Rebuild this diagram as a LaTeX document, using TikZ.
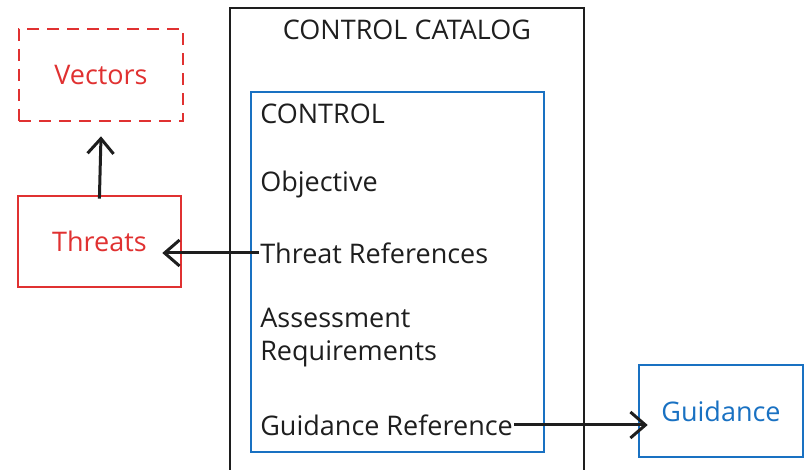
\documentclass[tikz,border=0pt]{standalone}
\usepackage{fontspec}
\setmainfont{Open Sans}
\usepackage{xcolor}
\usepackage{tikz}
\usetikzlibrary{arrows.meta}
\usetikzlibrary{calc}
\definecolor{xred}{HTML}{E03131}
\definecolor{xblue}{HTML}{1971C2}
\definecolor{xblack}{HTML}{1E1E1E}

\begin{document}
\begin{tikzpicture}[x=1pt,y=-1pt,line width=2.6pt,
    box/.style={draw,rectangle,inner sep=0pt,font=\fontsize{27}{32}\selectfont},
    item/.style={anchor=west,inner sep=0pt,align=left,text=xblack,font=\fontsize{27}{33}\selectfont},
    link/.style={xblack,line width=3pt,-{Straight Barb[length=15pt,width=26pt]}}]
  \useasboundingbox (0,0) rectangle (804,470);
  \clip (0,0) rectangle (804,470);
  % left side
  \node[box,xred,dash pattern=on 12pt off 8pt,text=xred,minimum width=164,minimum height=92] (vectors) at (101,75) {Vectors};
  \node[box,xred,text=xred,minimum width=163,minimum height=91] (threats) at (99.5,241.5) {Threats};
  % catalog and control
  \node[box,xblack,minimum width=354,minimum height=470] (catalog) at (407,243) {};
  \node[anchor=north,inner sep=0pt,text=xblack,font=\fontsize{27}{32}\selectfont] (title) at ($(catalog.north)+(0,12)$) {CONTROL CATALOG};
  \node[box,xblue,minimum width=293,minimum height=360] (control) at (397.5,272) {};
  \node[item] (head) at (259,114) {CONTROL};
  \node[item] (objective) at (259,184) {Objective};
  \node[item] (threatref) at (259,253) {Threat References};
  \node[item] (assess) at (259,338) {Assessment\\Requirements};
  \node[item] (guideref) at (259,425) {Guidance Reference};
  % right side
  \node[box,xblue,text=xblue,minimum width=164,minimum height=92] (guidance) at (721,411) {Guidance};
  % connectors
  \draw[link,shorten <=-4pt] (threats.north) -- ($(vectors.south)+(0,14)$);
  \draw[link,shorten >=-20pt] (threatref.west) -- (threats.east |- threatref.west);
  \draw[link,shorten >=-10pt] (guideref.east) -- (guidance.west |- guideref.east);
\end{tikzpicture}
\end{document}
